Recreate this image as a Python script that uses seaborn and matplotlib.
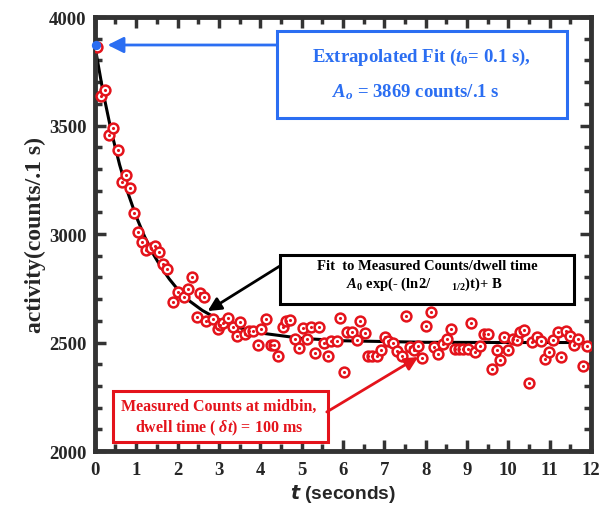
#!/usr/bin/env python3
# Decay of measured activity with exponential fit

import numpy as np
import pandas as pd
import seaborn as sns
import matplotlib.pyplot as plt
from matplotlib.patches import Rectangle
from matplotlib.ticker import MultipleLocator

t_meas = [0.05, 0.15, 0.25, 0.35, 0.45, 0.55, 0.65, 0.75, 0.85, 0.95,
          1.05, 1.15, 1.25, 1.35, 1.45, 1.55, 1.65, 1.75, 1.9, 2.0,
          2.15, 2.26, 2.35, 2.47, 2.54, 2.64, 2.7, 2.85, 2.97, 3.02,
          3.1, 3.23, 3.35, 3.43, 3.52, 3.63, 3.73, 3.83, 3.95, 4.01,
          4.14, 4.25, 4.33, 4.44, 4.56, 4.62, 4.73, 4.84, 4.94, 5.04,
          5.12, 5.24, 5.32, 5.43, 5.54, 5.63, 5.72, 5.85, 5.93, 6.03,
          6.1, 6.21, 6.33, 6.41, 6.53, 6.61, 6.7, 6.83, 6.92, 7.02,
          7.1, 7.22, 7.32, 7.42, 7.52, 7.62, 7.72, 7.82, 7.92, 8.0,
          8.12, 8.2, 8.31, 8.41, 8.51, 8.61, 8.71, 8.81, 8.91, 9.02,
          9.11, 9.19, 9.31, 9.42, 9.5, 9.61, 9.72, 9.8, 9.9, 10.0,
          10.12, 10.2, 10.28, 10.39, 10.5, 10.58, 10.7, 10.79, 10.89, 10.99,
          11.09, 11.2, 11.27, 11.39, 11.49, 11.59, 11.69, 11.8, 11.9]
counts = [3860, 3635, 3665, 3456, 3488, 3388, 3241, 3272, 3212, 3095,
          3008, 2965, 2928, 2935, 2943, 2918, 2860, 2839, 2685, 2733,
          2708, 2747, 2803, 2616, 2727, 2708, 2600, 2608, 2562, 2581,
          2590, 2611, 2570, 2531, 2593, 2539, 2554, 2554, 2489, 2562,
          2608, 2489, 2489, 2437, 2570, 2600, 2605, 2516, 2473, 2567,
          2516, 2573, 2450, 2573, 2496, 2439, 2509, 2509, 2613, 2366,
          2548, 2548, 2513, 2598, 2542, 2440, 2440, 2440, 2465, 2524,
          2509, 2496, 2462, 2436, 2623, 2481, 2467, 2486, 2427, 2577,
          2639, 2478, 2447, 2493, 2516, 2562, 2470, 2470, 2470, 2470,
          2590, 2455, 2486, 2537, 2537, 2378, 2465, 2421, 2524, 2465,
          2516, 2513, 2547, 2558, 2312, 2501, 2527, 2506, 2424, 2458,
          2513, 2547, 2432, 2552, 2528, 2489, 2516, 2390, 2486]

# fitted curve as drawn
t_fit = [0, 0.2, 0.4, 0.6, 0.8, 1.0, 1.2, 1.4, 1.6, 1.8, 2.0, 2.3, 2.6,
         3.0, 3.5, 4.0, 5.0, 6.0, 8.0, 10.0, 12.0]
a_fit = [3869, 3654, 3472, 3319, 3190, 3081, 2990, 2912, 2848, 2793, 2746,
         2690, 2648, 2605, 2568, 2544, 2519, 2508, 2501, 2500, 2500]

# extrapolated point
t_extrap = [0.03]
a_extrap = [3869]

RED = "#e4131b"
BLUE = "#2b6ef2"
AXC = "#333333"

sns.set_style("ticks")
plt.rcParams["font.family"] = ["Liberation Serif", "DejaVu Serif"]
plt.rcParams["font.weight"] = "bold"
plt.rcParams["mathtext.fontset"] = "custom"
plt.rcParams["mathtext.rm"] = "Liberation Serif:bold"
plt.rcParams["mathtext.it"] = "Liberation Serif:italic:bold"
plt.rcParams["mathtext.bf"] = "Liberation Serif:bold"

fig = plt.figure(figsize=(6, 5.1), dpi=100)
ax = fig.add_axes([0.158, 0.1137, 0.827, 0.851])

sns.lineplot(x=t_fit, y=a_fit, color="black", lw=2.2, ax=ax, zorder=2)
sns.scatterplot(x=t_meas, y=counts, marker="o", s=50, color="white",
                edgecolor=RED, linewidth=1.8, ax=ax, zorder=3)
sns.scatterplot(x=t_meas, y=counts, marker="o", s=5, color=RED,
                linewidth=0, ax=ax, zorder=4)
sns.scatterplot(x=t_extrap, y=a_extrap, marker="o", s=45, color=BLUE,
                linewidth=0, ax=ax, zorder=5, clip_on=False)

ax.set_xlim(0, 12)
ax.set_ylim(2000, 4000)
ax.xaxis.set_major_locator(MultipleLocator(1))
ax.xaxis.set_minor_locator(MultipleLocator(0.5))
ax.yaxis.set_major_locator(MultipleLocator(500))
ax.yaxis.set_minor_locator(MultipleLocator(100))
ax.tick_params(which="both", direction="in", top=True, right=True,
               width=2.5, color=AXC, labelsize=13.5)
ax.tick_params(which="major", length=8)
ax.tick_params(which="minor", length=5)
ax.tick_params(axis="x", pad=7)
ax.tick_params(axis="y", pad=6)
for s in ax.spines.values():
    s.set_linewidth(3.5)
    s.set_color(AXC)

ax.set_ylabel("activity(counts/.1 s)", fontsize=17, fontweight="bold", labelpad=2)
ax.set_xlabel(r"$\mathbfit{t}$ (seconds)", fontsize=13.8, fontweight="bold",
              family="Liberation Sans", math_fontfamily="dejavusans", labelpad=3)

# blue box
ax.add_patch(Rectangle((4.40, 3535), 7.02, 400, fill=False, ec=BLUE, lw=2.2, zorder=6))
ax.text(7.89, 3820, r"Extrapolated Fit ($t_{\mathit{0}}$= 0.1 s),", color=BLUE,
        fontsize=13.5, ha="center", va="center", zorder=7)
ax.text(7.77, 3659, r"$A_{\mathit{o}}$ = 3869 counts/.1 s", color=BLUE,
        fontsize=13.5, ha="center", va="center", zorder=7)
ax.annotate("", xy=(0.31, 3871), xytext=(4.40, 3871),
            arrowprops=dict(arrowstyle="-|>", color=BLUE, lw=2, mutation_scale=24,
                            shrinkA=0, shrinkB=0))

# black box
ax.add_patch(Rectangle((4.48, 2677), 7.11, 226, fill=True, fc="white", ec="black", lw=2.2, zorder=6))
ax.text(8.03, 2853, "Fit  to Measured Counts/dwell time", color="black",
        fontsize=10.5, ha="center", va="center", zorder=7)
ax.text(7.96, 2775, r"$A_{\mathit{0}}$ exp(- (ln2/      $_{1/2}$)t)+ B", color="black",
        fontsize=10.5, ha="center", va="center", zorder=7)
ax.annotate("", xy=(2.73, 2645), xytext=(4.48, 2853),
            arrowprops=dict(arrowstyle="-|>", color="black", lw=2, mutation_scale=20,
                            shrinkA=0, shrinkB=0), zorder=6)

# red box
ax.add_patch(Rectangle((0.44, 2041), 5.20, 235, fill=True, fc="white", ec=RED, lw=2.2, zorder=6))
ax.text(2.99, 2207, "Measured Counts at midbin,", color=RED,
        fontsize=11.5, ha="center", va="center", zorder=7)
ax.text(3.01, 2111, r"dwell time ( $\delta\mathit{t}$) = 100 ms", color=RED,
        fontsize=11.5, ha="center", va="center", zorder=7)
ax.annotate("", xy=(7.82, 2433), xytext=(5.61, 2180),
            arrowprops=dict(arrowstyle="-|>", color=RED, lw=2, mutation_scale=20,
                            shrinkA=0, shrinkB=0), zorder=6)

plt.savefig("out.png", dpi=100)
